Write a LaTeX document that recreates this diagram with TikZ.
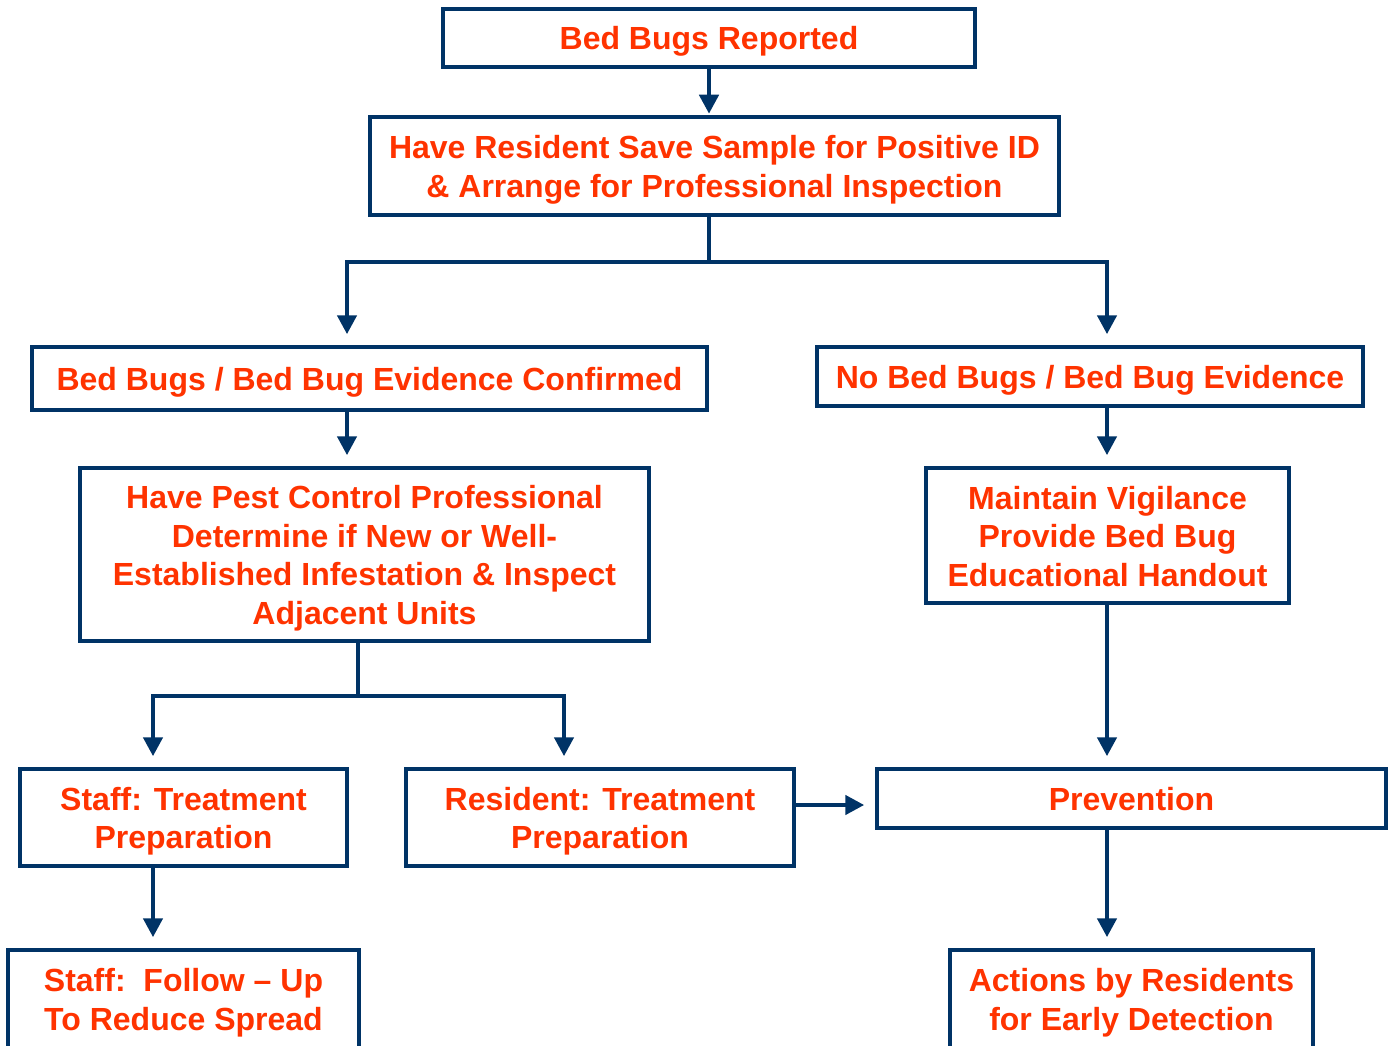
\documentclass[tikz,border=0pt]{standalone}
\usepackage{fontspec}
\setmainfont{Liberation Sans}
\usetikzlibrary{arrows.meta}
\definecolor{navy}{RGB}{0,51,102}
\definecolor{txt}{RGB}{255,51,0}
\newcommand\bs{\rule[-7.25pt]{0pt}{38.5pt}}
\begin{document}
\begin{tikzpicture}[x=1pt,y=-1pt,
  box/.style={draw=navy,line width=3.5pt,inner sep=0pt,align=center,text=txt,
    font=\fontsize{32}{38.5}\selectfont\bfseries},
  conn/.style={draw=navy,line width=4.5pt},
  arr/.style={conn,-{Triangle[width=19pt,length=19pt]},shorten >=11pt}]
\useasboundingbox (0,0) rectangle (1393,1046);
\clip (0,0) rectangle (1393,1046);
\node[box,minimum width=532pt,minimum height=58pt] (n1) at (709,38) {\bs Bed Bugs Reported\bs};
\node[box,minimum width=689pt,minimum height=98pt] (n2) at (714.5,166) {\bs Have Resident Save Sample for Positive ID\\\& Arrange for Professional Inspection\bs};
\node[box,minimum width=675pt,minimum height=63pt] (n3) at (369.5,378.5) {\bs Bed Bugs / Bed Bug Evidence Confirmed\bs};
\node[box,minimum width=546pt,minimum height=59pt] (n4) at (1090,376.5) {\bs No Bed Bugs / Bed Bug Evidence\bs};
\node[box,minimum width=569pt,minimum height=173pt] (n5) at (364.5,554.5) {\bs Have Pest Control Professional\\Determine if New or Well-\\Established Infestation \& Inspect\\Adjacent Units\bs};
\node[box,minimum width=363pt,minimum height=135pt] (n6) at (1107.5,535.5) {\bs Maintain Vigilance\\Provide Bed Bug\\Educational Handout\bs};
\node[box,minimum width=327pt,minimum height=97pt] (n7) at (183.5,817.5) {\bs Staff: Treatment\\Preparation\bs};
\node[box,minimum width=388pt,minimum height=97pt] (n8) at (600,817.5) {\bs Resident: Treatment\\Preparation\bs};
\node[box,minimum width=509pt,minimum height=59pt] (n9) at (1131.5,798.5) {\bs Prevention\bs};
\node[box,minimum width=351pt,minimum height=98pt] (n10) at (183.5,999) {\bs Staff:~~Follow -- Up\\To Reduce Spread\bs};
\node[box,minimum width=363pt,minimum height=98pt] (n11) at (1131.5,999) {\bs Actions by Residents\\for Early Detection\bs};
% junction coordinates
\coordinate (j1) at (709,262);
\coordinate (c3) at (347,262);
\coordinate (c4) at (1107,262);
\coordinate (j2) at (358,696);
\coordinate (c7) at (153,696);
\coordinate (c8) at (564,696);
% connectors
\draw[arr,shorten >=1.5pt] (n1.south -| j1) -- (n2.north -| j1);
\draw[conn] (n2.south -| j1) -- (j1);
\draw[arr] (j1) -- (c3) -- (n3.north -| c3);
\draw[arr] (j1) -- (c4) -- (n4.north -| c4);
\draw[arr] (n3.south -| c3) -- (n5.north -| c3);
\draw[arr] (n4.south -| c4) -- (n6.north -| c4);
\draw[conn] (n5.south -| j2) -- (j2);
\draw[arr] (j2) -- (c7) -- (n7.north -| c7);
\draw[arr] (j2) -- (c8) -- (n8.north -| c8);
\draw[arr] (n6.south -| c4) -- (n9.north -| c4);
\draw[arr] (n7.south -| c7) -- (n10.north -| c7);
\draw[arr] (n8.east |- 0,805) -- (n9.west |- 0,805);
\draw[arr] (n9.south -| c4) -- (n11.north -| c4);
\end{tikzpicture}
\end{document}
